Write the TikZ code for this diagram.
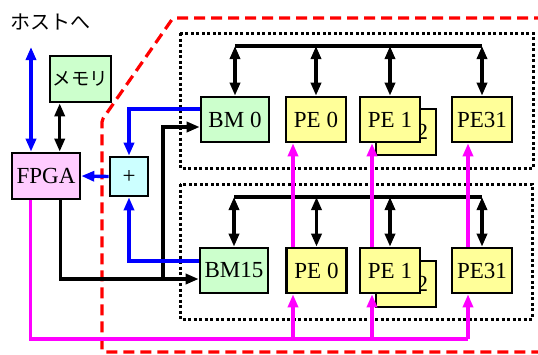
\documentclass[tikz,border=0pt]{standalone}
\usepackage{fontspec}
\setmainfont{Liberation Serif}
\newfontfamily\jpfont{Noto Sans CJK JP}
\usetikzlibrary{arrows.meta,calc}

\definecolor{bmgreen}{HTML}{CCFFCC}
\definecolor{peyellow}{HTML}{FFFF99}
\definecolor{fpgapink}{HTML}{FFCCFF}
\definecolor{pluscyan}{HTML}{CCFFFF}
\definecolor{linkmag}{HTML}{FF00FF}
\definecolor{linkblue}{HTML}{0000FF}
\definecolor{framered}{HTML}{FF0000}

\begin{document}
\begin{tikzpicture}[x=1pt, y=-1pt,
    unit/.style={draw, line width=2.6pt, inner sep=0pt, minimum width=60pt, minimum height=45pt, font=\fontsize{23}{23}\selectfont},
    pebox/.style={unit, fill=peyellow},
    bmbox/.style={unit, fill=bmgreen, minimum width=68pt},
    group/.style={line width=3pt, dash pattern=on 3pt off 2.5pt},
    frame/.style={framered, line width=3.2pt, dash pattern=on 11pt off 6pt, rounded corners=2pt},
    bus/.style={line width=3.4pt},
    busarrow/.style={line width=3.4pt, {Triangle[length=13pt, width=10pt]}-{Triangle[length=13pt, width=10pt]}},
    blk/.style={line width=3.4pt, -{Triangle[length=13pt, width=10pt]}},
    blu/.style={linkblue, line width=3.4pt, -{Triangle[length=13pt, width=10pt]}},
    mag/.style={linkmag, line width=3.2pt, -{Triangle[length=13pt, width=10pt]}},
]
\useasboundingbox (0,0) rectangle (538,354);

% Board outline (red dashed)
\draw[frame] (545,18) -- (173,18) -- (102,120) -- (102,352) -- (545,352);

% Two groups of units
\draw[group] (180,33) rectangle (533,168);
\draw[group] (180,184) rectangle (532,319);

% Host side
\node[font=\jpfont\fontsize{20}{20}\selectfont] (host) at (50,22) {ホストへ};
\node[unit, fill=bmgreen, minimum width=61pt, minimum height=46pt, font=\jpfont\fontsize{18.5}{18.5}\selectfont] (mem) at (80.5,79) {メモリ};
\node[unit, fill=fpgapink, minimum width=68pt, minimum height=46pt] (fpga) at (46,176) {FPGA};
\node[unit, fill=pluscyan, minimum width=38pt, minimum height=39pt] (plus) at (129,176.5) {+};

\coordinate (hostend) at (31,47);
\draw[linkblue, line width=3.4pt, {Triangle[length=13pt, width=10pt]}-{Triangle[length=13pt, width=10pt]}] (hostend) -- (hostend |- fpga.north);
\coordinate (memport) at ($(mem.south west)+(11,0)$);
\draw[busarrow] (memport) -- (memport |- fpga.north);

% Upper group
\node[bmbox] (bm0) at (235,119.5) {BM 0};
\node[pebox] (pe0a) at (316,119.5) {PE 0};
\node[pebox, minimum height=46pt] (pe2a) at (406,132) {PE 2};
\node[pebox] (pe1a) at (390,119.5) {PE 1};
\node[pebox] (pe31a) at (482,119.5) {PE31};

\coordinate (busa) at (0,46);
\draw[bus] (bm0.north |- busa) -- (pe31a.north |- busa);
\foreach \n in {bm0,pe0a,pe1a,pe31a}
    \draw[busarrow] (\n.north |- busa) -- (\n.north);

% Lower group
\node[bmbox] (bm15) at (234,270.5) {BM15};
\node[pebox] (pe0b) at (316.5,270.5) {PE 0};
\node[pebox, minimum height=46pt] (pe2b) at (406,284) {PE 2};
\node[pebox] (pe1b) at (390,270.5) {PE 1};
\node[pebox] (pe31b) at (482,270.5) {PE31};

\coordinate (busb) at (0,197);
\draw[bus] (bm15.north |- busb) -- (pe31b.north |- busb);
\foreach \n in {bm15,pe0b,pe1b,pe31b}
    \draw[busarrow] (\n.north |- busb) -- (\n.north);

% FPGA -> BM (black)
\coordinate (split) at (163,279);
\draw[blk] ($(fpga.south west)+(50,0)$) |- ($(bm15.west)+(0,8.5)$);
\draw[blk] (split) |- ($(bm0.west)+(0,7.5)$);

% BM -> adder -> FPGA (blue)
\draw[blu] ($(bm0.west)+(0,-10.5)$) -| (plus.north);
\draw[blu] ($(bm15.west)+(0,-9.5)$) -| (plus.south);
\draw[blu] (plus.west) -- (fpga.east);

% FPGA -> PE (magenta)
\draw[linkmag, line width=3.2pt] ($(fpga.south west)+(20,0)$) |- (468,339);
\foreach \x/\lo/\up in {293/pe0b/pe0a, 372/pe1b/pe1a, 468/pe31b/pe31a} {
    \draw[mag] (\x,339) -- (\x,0 |- \lo.south);
    \draw[mag] (\x,0 |- \lo.north) -- (\x,0 |- \up.south);
}

\end{tikzpicture}
\end{document}
